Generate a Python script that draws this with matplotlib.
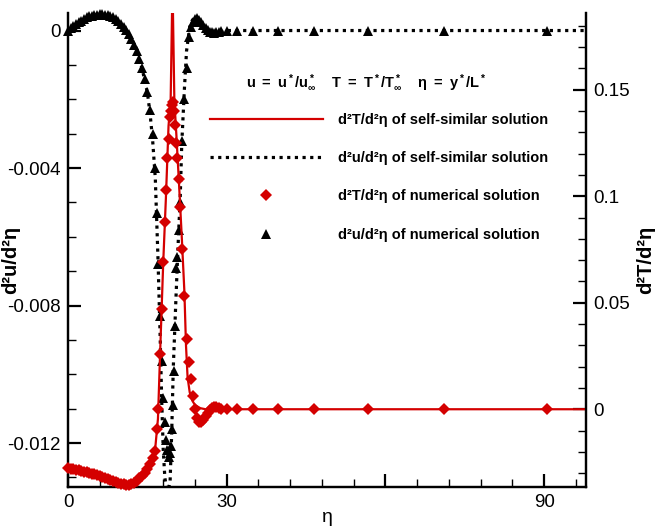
import matplotlib
matplotlib.use("Agg")
import matplotlib.pyplot as plt
from matplotlib.ticker import MultipleLocator, FixedLocator, FixedFormatter

plt.rcParams['font.family'] = ['Liberation Sans', 'DejaVu Sans']
plt.rcParams['mathtext.fontset'] = 'custom'
plt.rcParams['mathtext.rm'] = 'Liberation Sans:bold'
plt.rcParams['mathtext.it'] = 'Liberation Sans:bold'
plt.rcParams['mathtext.bf'] = 'Liberation Sans:bold'

# self-similar solution, d2u/deta2
eta_ss_u = [0, 1, 2, 3, 4, 5, 6, 7, 8, 9, 10, 11, 12, 13, 14, 15, 15.5, 16, 16.5,
            17, 17.4, 17.7, 18.0, 18.3, 18.8, 19.3, 19.6, 19.9, 20.4, 20.9, 21.2,
            21.5, 22.0, 22.4, 23.0, 23.5, 24.0, 24.5, 25.0, 25.5, 26.0, 27.0, 28.0,
            29.0, 30.0, 40.0, 98.0]
u_ss = [0, 0.00012, 0.00024, 0.00034, 0.00041, 0.00045, 0.00047, 0.00046, 0.00042,
        0.00034, 0.00020, 0.00002, -0.00025, -0.0006, -0.0011, -0.0018, -0.0024,
        -0.0032, -0.0043, -0.0066, -0.0088, -0.0107, -0.0122, -0.0130, -0.0135,
        -0.0131, -0.0117, -0.0098, -0.0078, -0.0059, -0.0049, -0.0033, -0.0017,
        -0.0006, 0.0001, 0.0003, 0.00040, 0.00038, 0.00026, 0.00014, 0.00004,
        -0.00006, -0.00006, -0.00003, 0.0, 0.0, 0.0]

# self-similar solution, d2T/deta2
eta_ss_T = [0, 1, 2, 3, 4, 5, 6, 7, 8, 9, 10, 11, 12, 13, 14, 15, 15.5, 16, 16.5,
            17, 17.5, 18, 18.5, 19, 19.4, 19.75, 20.1, 20.5, 21, 21.5, 22, 22.3,
            22.6, 23, 23.5, 24, 25, 26, 98]
T_ss = [-0.0278, -0.0282, -0.0287, -0.0293, -0.0299, -0.0306, -0.0314, -0.0323,
        -0.0332, -0.0341, -0.0349, -0.0354, -0.0350, -0.0335, -0.0312, -0.0280,
        -0.0258, -0.0225, -0.0180, -0.0045, 0.033, 0.069, 0.099, 0.133, 0.145,
        0.200, 0.145, 0.128, 0.105, 0.081, 0.055, 0.030, 0.015, 0.008, 0.004,
        0.002, 0.0005, 0.0, 0.0]

# numerical solution (same grid for both quantities)
eta_num = [0, 0.5, 1, 1.5, 2, 2.5, 3, 3.5, 4, 4.5, 5, 5.5, 6, 6.5, 7, 7.5, 8, 8.5,
           9, 9.5, 10, 10.5, 11, 11.5, 12, 12.5, 13, 13.5, 14, 14.5, 15, 15.5,
           16, 16.4, 16.8, 17.1, 17.4, 17.7, 18.0, 18.3, 18.6, 18.8, 19.0, 19.2,
           19.4, 19.6, 19.8, 20.0, 20.2, 20.4, 20.6, 20.9, 21.2, 21.6, 22.0, 22.4,
           22.8, 23.2, 23.6, 24.0, 24.4, 24.8, 25.2, 25.6, 26.0, 26.4, 26.8, 27.2,
           27.6, 28.0, 28.5, 29.0, 30, 32, 35, 39.6, 46.5, 56.7, 71, 90.5]
u_num = [0, 0.00006, 0.00012, 0.00018, 0.00024, 0.00029, 0.00034, 0.00038, 0.00041,
         0.00043, 0.00045, 0.00046, 0.00047, 0.00047, 0.00046, 0.00044, 0.00042,
         0.00038, 0.00034, 0.00028, 0.00020, 0.00011, 0.00002, -0.00010, -0.00025,
         -0.00042, -0.00060, -0.00082, -0.0011, -0.0014, -0.0018, -0.0023, -0.0030,
         -0.0040, -0.0053, -0.0068, -0.0083, -0.0096, -0.0107, -0.0114, -0.0119,
         -0.0122, -0.0124, -0.0123, -0.0121, -0.0116, -0.0109, -0.0099, -0.0086,
         -0.0069, -0.0066, -0.0058, -0.0050, -0.0032, -0.0020, -0.0011, -0.0002,
         0.0001, 0.00025, 0.00033, 0.00037, 0.00032, 0.00024, 0.00016, 0.00008,
         0.00002, -0.00003, -0.00005, -0.00006, -0.00005, -0.00003, -0.00002,
         0, 0, 0, 0, 0, 0, 0, 0]
T_num = [-0.0278, -0.0280, -0.0282, -0.0284, -0.0287, -0.0290, -0.0293, -0.0296,
         -0.0299, -0.0302, -0.0306, -0.0310, -0.0314, -0.0318, -0.0323, -0.0327,
         -0.0332, -0.0336, -0.0341, -0.0345, -0.0349, -0.0352, -0.0354, -0.0354,
         -0.0350, -0.0344, -0.0335, -0.0325, -0.0312, -0.0297, -0.0280, -0.0258,
         -0.0228, -0.0198, -0.0095, 0.0, 0.026, 0.047, 0.069, 0.088, 0.103, 0.118,
         0.127, 0.137, 0.140, 0.143, 0.144, 0.140, 0.1335, 0.125, 0.118, 0.108,
         0.095, 0.075, 0.053, 0.033, 0.022, 0.014, 0.006, 0.0, -0.0040, -0.0060,
         -0.0062, -0.0050, -0.0032, -0.0018, -0.0005, 0.0005, 0.0010, 0.0010,
         0.0006, 0.0002, 0, 0, 0, 0, 0, 0, 0, 0]

x_major = [0, 30, 60, 90]
x_labels = ['0', '30', '', '90']

red = '#d40000'

fig = plt.figure(figsize=(6.63, 5.29), dpi=100)
ax = fig.add_axes([68 / 663, 42 / 529, 518 / 663, 474 / 529])
ax2 = ax.twinx()

l_T, = ax2.plot(eta_ss_T, T_ss, color=red, lw=1.6, zorder=2)
l_u, = ax.plot(eta_ss_u, u_ss, color='black', lw=2.3, linestyle=(0, (1.0, 1.4)),
               zorder=2)
m_T, = ax2.plot(eta_num, T_num, linestyle='none', marker='D', ms=6, color=red,
                markeredgewidth=0, zorder=3, clip_on=False)
m_u, = ax.plot(eta_num, u_num, linestyle='none', marker='^', ms=6.8, color='black',
               markeredgewidth=0, zorder=3, clip_on=False)

ax.set_xlim(0, 97.9)
ax.set_ylim(-0.01328, 0.00051)
ax2.set_ylim(-0.0365, 0.186)

ax.xaxis.set_major_locator(FixedLocator(x_major))
ax.xaxis.set_major_formatter(FixedFormatter(x_labels))
ax.xaxis.set_minor_locator(MultipleLocator(6))
ax.yaxis.set_major_locator(MultipleLocator(0.004))
ax.yaxis.set_minor_locator(MultipleLocator(0.001))
ax.yaxis.set_major_formatter(plt.FuncFormatter(lambda v, p: '0' if abs(v) < 1e-9 else f'{v:g}'))
ax2.yaxis.set_major_locator(MultipleLocator(0.05))
ax2.yaxis.set_minor_locator(MultipleLocator(0.01))
ax2.yaxis.set_major_formatter(plt.FuncFormatter(lambda v, p: '0' if abs(v) < 1e-9 else f'{v:g}'))

for a in (ax, ax2):
    a.spines['top'].set_visible(False)
    for s in ('left', 'right', 'bottom'):
        a.spines[s].set_linewidth(1.6)
    a.tick_params(which='major', direction='in', length=9.5, width=1.6, labelsize=13.5, pad=5)
    a.tick_params(which='minor', direction='in', length=5.5, width=1.0)
ax.tick_params(axis='y', which='both', right=False)
ax2.tick_params(axis='y', which='both', left=False)

ax.set_xlabel('η', fontsize=14)
ax.xaxis.set_label_coords(0.5, -0.046)
ax.set_ylabel('d²u/d²η', fontsize=14.5, fontweight='bold')
ax.yaxis.set_label_coords(-0.092, 0.48)
ax2.set_ylabel('d²T/d²η', fontsize=14.5, fontweight='bold', rotation=90)
ax2.yaxis.set_label_coords(1.097, 0.48)

# definition of the variables above the legend entries
header = (r'$\mathregular{u\ =\ u^*/u^*_\infty}$' + '    '
          + r'$\mathregular{T\ =\ T^*/T^*_\infty}$' + '    '
          + r'$\mathregular{\eta\ =\ y^*/L^*}$')
ax.text(0.575, 0.852, header, transform=ax.transAxes, ha='center', va='center',
        fontsize=10.5, fontweight='bold')

ax.legend([l_T, l_u, m_T, m_u],
          ['d²T/d²η of self-similar solution',
           'd²u/d²η of self-similar solution',
           'd²T/d²η of numerical solution',
           'd²u/d²η of numerical solution'],
          loc='upper left', bbox_to_anchor=(0.262, 0.802),
          frameon=False, handlelength=7.8, handletextpad=1.0,
          labelspacing=1.67, borderaxespad=0,
          prop={'weight': 'bold', 'size': 10.5})

fig.savefig('out.png', dpi=100)
